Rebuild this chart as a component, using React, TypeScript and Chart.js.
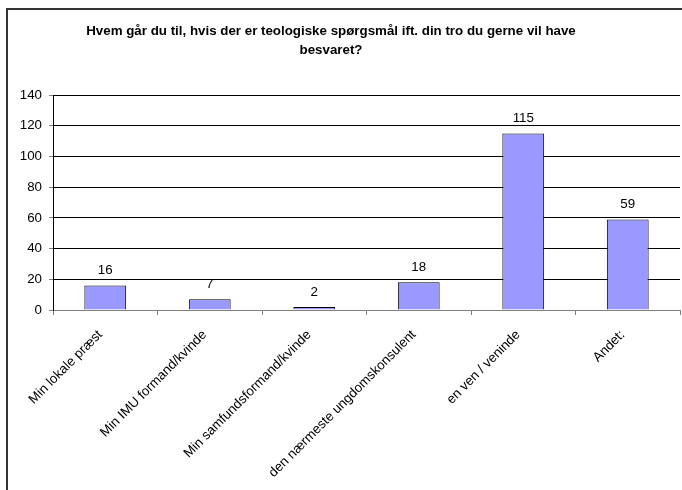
import React, { useEffect, useRef } from "react";
import { Chart, registerables } from "chart.js";

Chart.register(...registerables);

const titleLines: string[] = [
  "Hvem går du til, hvis der er teologiske spørgsmål ift. din tro du gerne vil have",
  "besvaret?",
];
const categories: string[] = [
  "Min lokale præst",
  "Min IMU formand/kvinde",
  "Min samfundsformand/kvinde",
  "den nærmeste ungdomskonsulent",
  "en ven / veninde",
  "Andet:",
];
const values: number[] = [16, 7, 2, 18, 115, 59];
const yTicks: number[] = [0, 20, 40, 60, 80, 100, 120, 140];

const FONT = "'Liberation Sans', Arial, sans-serif";
const FS = 13.33;

const titlePlugin = {
  id: "customTitle",
  afterDraw(chart: any) {
    const ctx = chart.ctx;
    ctx.save();
    ctx.font = `bold ${FS}px ${FONT}`;
    ctx.fillStyle = "#000";
    ctx.textAlign = "center";
    ctx.textBaseline = "middle";
    ctx.fillText(titleLines[0], 323, 21);
    ctx.fillText(titleLines[1], 323, 40);
    ctx.restore();
  },
};

const valueLabelPlugin = {
  id: "valueLabels",
  afterDatasetsDraw(chart: any) {
    const ctx = chart.ctx;
    const meta = chart.getDatasetMeta(0);
    ctx.save();
    ctx.font = `${FS}px ${FONT}`;
    ctx.fillStyle = "#000";
    ctx.textAlign = "center";
    ctx.textBaseline = "middle";
    meta.data.forEach((bar: any, i: number) => {
      ctx.fillText(String(values[i]), bar.x, bar.y - 15);
    });
    ctx.restore();
  },
};

export default function App() {
  const ref = useRef<HTMLCanvasElement | null>(null);
  useEffect(() => {
    if (!ref.current) return;
    const chart = new Chart(ref.current, {
      type: "bar",
      data: {
        labels: categories,
        datasets: [
          {
            data: values,
            backgroundColor: "#9999FF",
            borderColor: "#000000",
            borderWidth: 1,
            categoryPercentage: 1,
            barPercentage: 0.4,
          },
        ],
      },
      options: {
        animation: false,
        responsive: false,
        layout: { padding: { top: 85, right: 2, left: 0, bottom: 0 } },
        plugins: {
          legend: { display: false },
          title: { display: false },
          tooltip: { enabled: false },
        },
        scales: {
          x: {
            grid: {
              drawOnChartArea: false,
              drawTicks: true,
              tickLength: 5,
              color: "#808080",
              offset: true,
            },
            border: { color: "#808080", width: 1 },
            ticks: {
              color: "#000",
              font: { family: FONT, size: FS },
              minRotation: 45,
              maxRotation: 45,
              autoSkip: false,
              padding: 12,
              labelOffset: -5,
            },
            afterFit(scale: any) {
              scale.height = 180;
            },
          },
          y: {
            min: 0,
            max: 140,
            afterBuildTicks(scale: any) {
              scale.ticks = yTicks.map((v) => ({ value: v }));
            },
            grid: {
              color: (c: any) => (c.tick && c.tick.value === 0 ? "#808080" : "#000000"),
              tickColor: "#808080",
              tickLength: 4,
              drawTicks: true,
            },
            border: { color: "#000", width: 1 },
            ticks: {
              color: "#000",
              font: { family: FONT, size: FS },
              padding: 7,
            },
            afterFit(scale: any) {
              scale.width = 45;
            },
          },
        },
      },
      plugins: [titlePlugin, valueLabelPlugin],
    });
    return () => chart.destroy();
  }, []);
  return (
    <div
      style={{
        position: "absolute",
        left: 6,
        top: 8,
        width: 676,
        height: 482,
        borderLeft: "2px solid #333",
        borderTop: "2px solid #333",
        boxSizing: "border-box",
        background: "#fff",
      }}
    >
      <canvas ref={ref} width={674} height={480} style={{ display: "block", width: 674, height: 480 }} />
    </div>
  );
}
